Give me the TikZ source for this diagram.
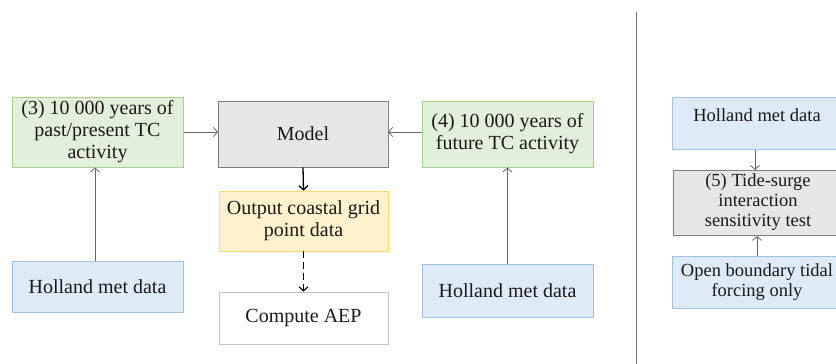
\documentclass[tikz,border=0pt]{standalone}
\usepackage{fontspec}
\setmainfont{Liberation Serif}
\usetikzlibrary{arrows.meta}
\definecolor{gfill}{HTML}{E2EFDA}
\definecolor{gdraw}{HTML}{A9D18E}
\definecolor{bfill}{HTML}{DEEBF7}
\definecolor{bdraw}{HTML}{9DC3E6}
\definecolor{mfill}{HTML}{E6E6E6}
\definecolor{mdraw}{HTML}{7F7F7F}
\definecolor{yfill}{HTML}{FFF2CC}
\definecolor{ydraw}{HTML}{FFD966}
\definecolor{wdraw}{HTML}{BFBFBF}
\definecolor{txt}{HTML}{1A1A1A}
\tikzset{
  box/.style={rectangle, line width=0.9pt, align=center, inner sep=0pt, text=txt,
    font=\fontsize{20}{22}\selectfont},
  greenbox/.style={box, fill=gfill, draw=gdraw},
  bluebox/.style={box, fill=bfill, draw=bdraw},
  greybox/.style={box, fill=mfill, draw=mdraw},
  yellowbox/.style={box, fill=yfill, draw=ydraw},
  whitebox/.style={box, fill=white, draw=wdraw},
  smallfont/.style={font=\fontsize{18.5}{20}\selectfont},
  garrow/.style={draw=black!60, line width=0.8pt, -{Straight Barb[length=4pt,width=9pt]}},
  barrow/.style={draw=black, line width=1.3pt, -{Straight Barb[length=4pt,width=9pt]}},
  darrow/.style={draw=black, line width=1.1pt, dash pattern=on 7pt off 4pt, -{Straight Barb[length=4pt,width=9pt]}},
}
\begin{document}
\begin{tikzpicture}[x=1pt,y=-1pt]
\useasboundingbox[fill=white] (0,0) rectangle (836,364);
% left part
\node[greenbox, minimum width=171pt, minimum height=70pt] (past) at (97.5,132) {(3) 10 000 years of\\past/present TC\\activity};
\node[greybox, minimum width=170pt, minimum height=66pt] (model) at (303,134) {Model};
\node[greenbox, minimum width=171pt, minimum height=66pt] (future) at (507.5,134) {(4) 10 000 years of\\future TC activity};
\node[yellowbox, minimum width=169pt, minimum height=60pt] (output) at (303.5,221) {Output coastal grid\\point data};
\node[whitebox, minimum width=169pt, minimum height=52pt] (aep) at (303.5,318) {Compute AEP};
\node[bluebox, minimum width=171pt, minimum height=51pt] (hol1) at (97.5,286.5) {Holland met data};
\node[bluebox, minimum width=171pt, minimum height=53pt] (hol2) at (507.5,290.5) {Holland met data};
\coordinate (pastR) at (184,132);
\coordinate (modelL) at (218,132);
\coordinate (futureL) at (422,132);
\coordinate (modelR) at (388,132);
\draw[garrow] (pastR) -- (modelL);
\draw[garrow] (futureL) -- (modelR);
\draw[garrow] (hol1.north -| 95,0) -- (past.south -| 95,0);
\draw[garrow] (hol2.north) -- (future.south);
\draw[barrow] (model.south) -- (output.north);
\draw[darrow] (output.south) -- (aep.north);
% separator
\coordinate (sepT) at (636,12);
\coordinate (sepB) at (636,364);
\draw[black!55, line width=1pt] (sepT) -- (sepB);
% right part
\node[bluebox, smallfont, minimum width=170pt, minimum height=52pt, anchor=north west] (hol3) at (672,97) {};
\node[smallfont, text=txt, inner sep=0pt] (hol3t) at (757,115) {Holland met data};
\node[greybox, smallfont, minimum width=170pt, minimum height=65pt, anchor=north west] (tide) at (673,170) {};
\node[smallfont, text=txt, align=center, inner sep=0pt] (tidet) at (758,202.5) {(5) Tide-surge\\interaction\\sensitivity test};
\node[bluebox, smallfont, minimum width=170pt, minimum height=52pt, anchor=north west] (open) at (672,256) {};
\node[smallfont, text=txt, align=center, inner sep=0pt] (opent) at (757,282.5) {Open boundary tidal\\forcing only};
\draw[garrow] (hol3.south -| 755,0) -- (tide.north -| 755,0);
\draw[garrow] (open.north -| 757,0) -- (tide.south -| 757,0);
\end{tikzpicture}
\end{document}
